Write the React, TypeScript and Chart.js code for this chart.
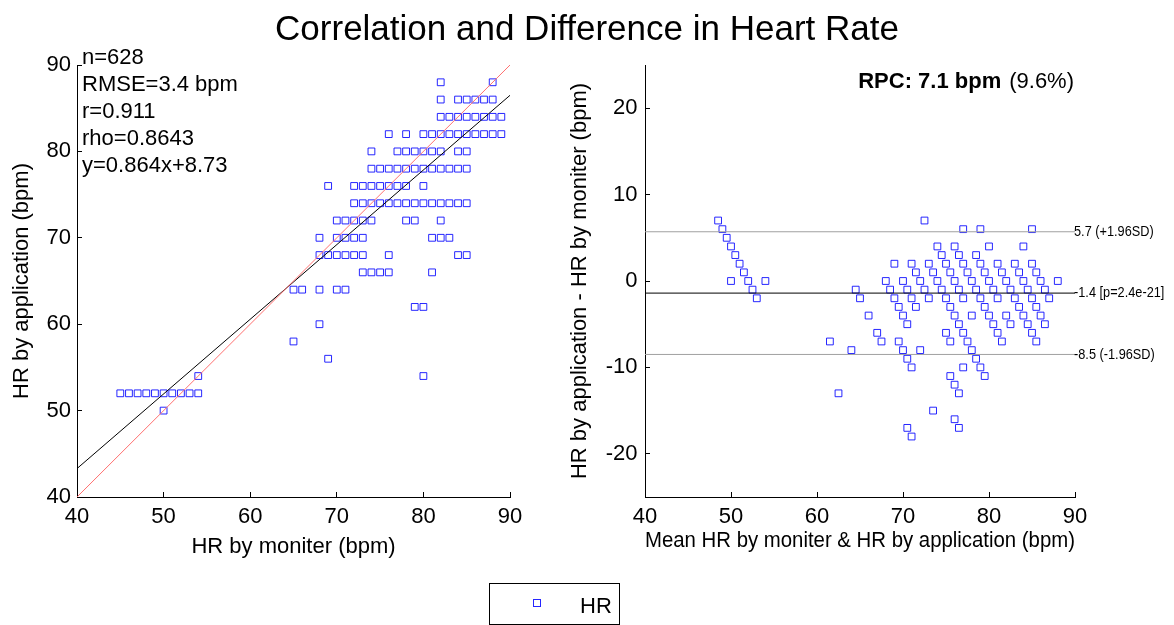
import React, { useEffect, useRef } from 'react';
import { Chart, registerables } from 'chart.js';

Chart.register(...registerables);

const FONT = '"Liberation Sans", Arial, Helvetica, sans-serif';
const W = 1174;
const H = 625;

// ---- data ----
// Rows of the correlation plot: HR by application (bpm) ...
const appRows = [88, 86, 84, 82, 80, 78, 76, 74, 72, 70, 68, 66, 64, 62, 60, 58, 56, 54, 52, 50];
// ... and, for each row, the HR by moniter values (bpm) that occur in it
const monitorByRow = [
  [82, 88],
  [82, 84, 85, 86, 87, 88],
  [82, 83, 84, 85, 86, 87, 88, 89],
  [76, 78, 80, 81, 82, 83, 84, 85, 86, 87, 88, 89],
  [74, 77, 78, 79, 80, 81, 82, 84, 85],
  [74, 75, 76, 77, 78, 79, 80, 81, 82, 83, 84, 85],
  [69, 72, 73, 74, 75, 76, 77, 78, 80],
  [72, 73, 74, 75, 76, 77, 78, 79, 80, 81, 82, 83, 84, 85],
  [70, 71, 72, 73, 74, 78, 79, 82],
  [68, 70, 71, 72, 73, 81, 82, 83],
  [68, 69, 70, 71, 72, 73, 76, 84, 85],
  [73, 74, 75, 76, 81],
  [65, 66, 68, 70, 71],
  [79, 80],
  [68],
  [65],
  [69],
  [54, 80],
  [45, 46, 47, 48, 49, 50, 51, 52, 53, 54],
  [50],
];

const hrTicks = [40, 50, 60, 70, 80, 90];
const diffTicks = [-20, -10, 0, 10, 20];

const statsLines = ['n=628', 'RMSE=3.4 bpm', 'r=0.911', 'rho=0.8643', 'y=0.864x+8.73'];
const fitSlope = 0.864;
const fitIntercept = 8.73;

const meanDiff = -1.4;
const upperLoA = 5.7;
const lowerLoA = -8.5;
const loaValues = [upperLoA, meanDiff, lowerLoA];
const loaLabels = ['5.7 (+1.96SD)', '-1.4 [p=2.4e-21]', '-8.5 (-1.96SD)'];
const rpcText = 'RPC: 7.1 bpm';
const rpcPct = '(9.6%)';

const titleText = 'Correlation and Difference in Heart Rate';
const legendLabel = 'HR';

// flattened pairs
const monitorHR: number[] = [];
const appHR: number[] = [];
monitorByRow.forEach((row, i) =>
  row.forEach((m) => {
    monitorHR.push(m);
    appHR.push(appRows[i]);
  })
);

const corrPoints = monitorHR.map((m, i) => ({ x: m, y: appHR[i] }));
const baPoints = monitorHR.map((m, i) => ({ x: (m + appHR[i]) / 2, y: appHR[i] - m }));

const MARKER = 'rgba(0,0,255,0.85)';

function axis(title: string, titlePad: any, tickPad: number, extra: any) {
  return {
    type: 'linear',
    grid: {
      display: true,
      drawOnChartArea: false,
      drawTicks: true,
      tickLength: -5,
      color: '#000',
      lineWidth: 1,
    },
    border: { display: true, color: '#000', width: 1 },
    ticks: { color: '#000', font: { size: 22, family: FONT }, padding: tickPad, autoSkip: false },
    title: { display: true, text: title, color: '#000', font: { size: 22, family: FONT }, padding: titlePad },
    ...extra,
  };
}

const setTicks = (vals: number[]) => (s: any) => {
  s.ticks = vals.map((v) => ({ value: v }));
};

export default function App() {
  const ref1 = useRef<HTMLCanvasElement>(null);
  const ref2 = useRef<HTMLCanvasElement>(null);

  useEffect(() => {
    Chart.defaults.font.family = FONT;

    const leftText = {
      id: 'leftText',
      afterDraw(chart: any) {
        const { ctx, chartArea: a } = chart;
        ctx.save();
        ctx.fillStyle = '#000';
        ctx.font = `22px ${FONT}`;
        ctx.textAlign = 'left';
        ctx.textBaseline = 'alphabetic';
        statsLines.forEach((t, i) => ctx.fillText(t, a.left + 5, a.top - 1 + i * 27));
        // figure title
        ctx.font = `35px ${FONT}`;
        ctx.textAlign = 'center';
        ctx.fillText(titleText, W / 2, 40);
        // legend box
        ctx.strokeStyle = '#000';
        ctx.lineWidth = 1;
        ctx.strokeRect(489.5, 583.5, 130, 41);
        ctx.strokeStyle = MARKER;
        ctx.strokeRect(533.5, 599.5, 7, 7);
        ctx.font = `22px ${FONT}`;
        ctx.textAlign = 'left';
        ctx.fillText(legendLabel, 580, 613);
        ctx.restore();
      },
    };

    const rightText = {
      id: 'rightText',
      afterDraw(chart: any) {
        const { ctx, chartArea: a, scales } = chart;
        ctx.save();
        ctx.fillStyle = '#000';
        ctx.textBaseline = 'alphabetic';
        ctx.textAlign = 'right';
        ctx.font = `22px ${FONT}`;
        ctx.fillText(rpcPct, a.right - 1, 88);
        const w = ctx.measureText(rpcPct).width;
        ctx.font = `bold 22px ${FONT}`;
        ctx.fillText(rpcText, a.right - 1 - w - 8, 88);
        ctx.font = `15px ${FONT}`;
        ctx.textAlign = 'left';
        ctx.textBaseline = 'middle';
        loaValues.forEach((v, i) => {
          ctx.save();
          ctx.translate(a.right - 1, scales.y.getPixelForValue(v));
          ctx.scale(0.85, 1);
          ctx.fillText(loaLabels[i], 0, 0);
          ctx.restore();
        });
        ctx.restore();
      },
    };

    const common = {
      animation: false,
      responsive: false,
      devicePixelRatio: 1,
      events: [],
      plugins: { legend: { display: false }, tooltip: { enabled: false }, title: { display: false } },
    };

    const c1 = new Chart(ref1.current!, {
      type: 'scatter',
      data: {
        datasets: [
          {
            label: 'identity',
            data: [{ x: 40, y: 40 }, { x: 90, y: 90 }],
            showLine: true,
            borderColor: '#ff7070',
            borderWidth: 1,
            pointRadius: 0,
          },
          {
            label: 'fit',
            data: [
              { x: 40, y: fitSlope * 40 + fitIntercept },
              { x: 90, y: fitSlope * 90 + fitIntercept },
            ],
            showLine: true,
            borderColor: '#000',
            borderWidth: 1,
            pointRadius: 0,
          },
          {
            label: legendLabel,
            data: corrPoints,
            pointStyle: 'rect',
            pointRadius: 4.8,
            borderColor: MARKER,
            backgroundColor: 'rgba(0,0,0,0)',
            borderWidth: 1,
          },
        ],
      } as any,
      options: {
        ...common,
        layout: { padding: { left: 0, right: W - 510, top: 65, bottom: 0 } },
        scales: {
          x: axis('HR by moniter (bpm)', { top: 0, bottom: 65 }, 12, {
            min: 40,
            max: 90,
            afterBuildTicks: setTicks(hrTicks),
            afterFit: (s: any) => {
              s.height = H - 497;
            },
          }),
          y: axis('HR by application (bpm)', { top: 9, bottom: 0 }, 11, {
            min: 40,
            max: 90,
            afterBuildTicks: setTicks(hrTicks),
            afterFit: (s: any) => {
              s.width = 77;
            },
          }),
        },
      } as any,
      plugins: [leftText],
    });

    const c2 = new Chart(ref2.current!, {
      type: 'scatter',
      data: {
        datasets: [
          {
            label: 'mean',
            data: [{ x: 40, y: meanDiff }, { x: 90, y: meanDiff }],
            showLine: true,
            borderColor: '#000',
            borderWidth: 1,
            pointRadius: 0,
          },
          {
            label: 'upper',
            data: [{ x: 40, y: upperLoA }, { x: 90, y: upperLoA }],
            showLine: true,
            borderColor: '#a0a0a0',
            borderWidth: 1,
            pointRadius: 0,
          },
          {
            label: 'lower',
            data: [{ x: 40, y: lowerLoA }, { x: 90, y: lowerLoA }],
            showLine: true,
            borderColor: '#a0a0a0',
            borderWidth: 1,
            pointRadius: 0,
          },
          {
            label: legendLabel,
            data: baPoints,
            pointStyle: 'rect',
            pointRadius: 4.8,
            borderColor: MARKER,
            backgroundColor: 'rgba(0,0,0,0)',
            borderWidth: 1,
          },
        ],
      } as any,
      options: {
        ...common,
        layout: { padding: { left: 560, right: W - 1075, top: 65, bottom: 0 } },
        scales: {
          x: axis('Mean HR by moniter & HR by application (bpm)', { top: 0, bottom: 71 }, 12, {
            min: 40,
            max: 90,
            afterBuildTicks: setTicks(hrTicks),
            afterFit: (s: any) => {
              s.height = H - 497;
            },
          }),
          y: axis('HR by application - HR by moniter (bpm)', { top: 7, bottom: 0 }, 12.5, {
            min: -25,
            max: 25,
            afterBuildTicks: setTicks(diffTicks),
            afterFit: (s: any) => {
              s.width = 85;
            },
          }),
        },
      } as any,
      plugins: [rightText],
    });

    return () => {
      c1.destroy();
      c2.destroy();
    };
  }, []);

  return (
    <div style={{ position: 'fixed', left: 0, top: 0, width: W, height: H, background: '#fff' }}>
      <canvas ref={ref1} width={W} height={H} style={{ position: 'absolute', left: 0, top: 0 }} />
      <canvas ref={ref2} width={W} height={H} style={{ position: 'absolute', left: 0, top: 0 }} />
    </div>
  );
}
